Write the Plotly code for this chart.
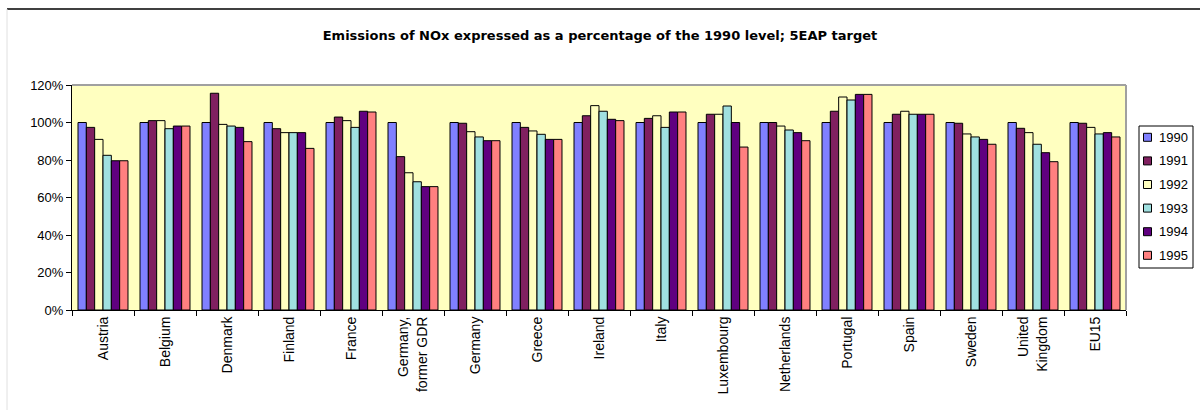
import plotly.graph_objects as go

countries = ["Austria", "Belgium", "Denmark", "Finland", "France", "Germany,<br>former GDR",
             "Germany", "Greece", "Ireland", "Italy", "Luxembourg", "Netherlands",
             "Portugal", "Spain", "Sweden", "United<br>Kingdom", "EU15"]
years = ["1990", "1991", "1992", "1993", "1994", "1995"]
y_tick_vals = [0, 20, 40, 60, 80, 100, 120]
y_tick_text = ["0%", "20%", "40%", "60%", "80%", "100%", "120%"]

v1990 = [100, 100, 100, 100, 100, 100, 100, 100, 100, 100, 100, 100, 100, 100, 100, 100, 100]
v1991 = [97.4, 101, 115.6, 96.7, 102.9, 81.8, 99.6, 97.4, 103.6, 102.2, 104.4, 100, 106, 104.4, 99.6, 96.9, 99.6]
v1992 = [91.0, 101, 99.0, 94.6, 101, 73.2, 95.1, 95.5, 109.0, 103.6, 104.4, 98.1, 113.6, 106, 93.9, 94.6, 97.4]
v1993 = [82.5, 96.7, 98.1, 94.6, 97.4, 68.4, 92.3, 93.7, 106, 97.4, 108.8, 96, 112, 104.4, 92.3, 88.4, 93.9]
v1994 = [79.6, 98.1, 97.4, 94.6, 106, 65.8, 90.3, 91.0, 101.7, 105.6, 100, 94.6, 115, 104.4, 91.0, 83.9, 94.6]
v1995 = [79.6, 98.1, 89.8, 86.2, 105.6, 65.8, 90.3, 91.0, 101, 105.6, 86.9, 90.3, 115, 104.4, 88.4, 79.1, 92.3]

series = [v1990, v1991, v1992, v1993, v1994, v1995]
colors = ["#8080FF", "#802060", "#FFFFC0", "#A0E0E0", "#600080", "#FF8080"]

FONT = "Liberation Sans, Arial, sans-serif"

fig = go.Figure()
for yr, vals, col in zip(years, series, colors):
    fig.add_trace(go.Bar(
        x=countries, y=vals, name=yr, showlegend=False, hoverinfo="skip",
        marker=dict(color=col, line=dict(color="black", width=1)),
    ))

L, R, T, B = 72, 74, 85, 100
W, H = 1200, 410
pw = W - L - R
ph = H - T - B

def px2x(px):
    return (px - L) / pw

def py2y(py):
    return (H - B - py) / ph

shapes = [
    dict(type="line", xref="paper", yref="paper", x0=0, x1=1, y0=1, y1=1,
         line=dict(color="#A0A0A0", width=2)),
    dict(type="line", xref="paper", yref="paper", x0=1, x1=1, y0=0, y1=1,
         line=dict(color="#A0A0A0", width=2)),
    dict(type="line", xref="paper", yref="paper", x0=px2x(7), x1=px2x(1200), y0=py2y(9), y1=py2y(9),
         line=dict(color="black", width=1.5)),
    dict(type="line", xref="paper", yref="paper", x0=px2x(7), x1=px2x(7), y0=py2y(9), y1=py2y(410),
         line=dict(color="#E0E0E0", width=1)),
    dict(type="rect", xref="paper", yref="paper", x0=px2x(1139), x1=px2x(1193),
         y0=py2y(268), y1=py2y(126), line=dict(color="black", width=1), fillcolor="white"),
]

annotations = []
leg_top = 137.3
leg_step = 23.6
for i, (yr, col) in enumerate(zip(years, colors)):
    cy = leg_top + i * leg_step
    shapes.append(dict(type="rect", xref="paper", yref="paper",
                       x0=px2x(1143.5), x1=px2x(1151.5), y0=py2y(cy + 4), y1=py2y(cy - 4),
                       line=dict(color="black", width=1), fillcolor=col))
    annotations.append(dict(text=yr, xref="paper", yref="paper", x=px2x(1157), y=py2y(cy),
                            xanchor="left", yanchor="middle", showarrow=False,
                            font=dict(family=FONT, size=13, color="black")))

fig.update_layout(
    width=W, height=H,
    margin=dict(l=L, r=R, t=T, b=B, autoexpand=False),
    paper_bgcolor="white",
    plot_bgcolor="#FFFFC0",
    barmode="group",
    bargap=0.194,
    bargroupgap=0,
    title=dict(text="<b>Emissions of NOx expressed as a percentage of the 1990 level; 5EAP target</b>",
               x=0.5, xref="container", xanchor="center",
               y=1 - 35 / H, yref="container", yanchor="middle",
               font=dict(family="DejaVu Sans, Liberation Sans, sans-serif", size=13, color="black")),
    font=dict(family=FONT, size=12, color="black"),
    showlegend=False,
    xaxis=dict(
        type="category", showline=True, linecolor="black", linewidth=1,
        ticks="outside", tickson="boundaries", ticklen=5, tickcolor="black",
        tickangle=-90, showgrid=False, tickfont=dict(family=FONT, size=14, color="black"),
    ),
    yaxis=dict(
        range=[0, 120], tickmode="array", tickvals=y_tick_vals, ticktext=y_tick_text,
        showline=True, linecolor="black", linewidth=1,
        ticks="outside", ticklen=5, tickcolor="black", showgrid=False, zeroline=False,
        tickfont=dict(family=FONT, size=13, color="black"),
    ),
    shapes=shapes,
    annotations=annotations,
)

fig.write_html("out.html", config={"displayModeBar": False, "staticPlot": True},
               post_script="document.body.style.margin='0';document.body.style.overflow='hidden';")
